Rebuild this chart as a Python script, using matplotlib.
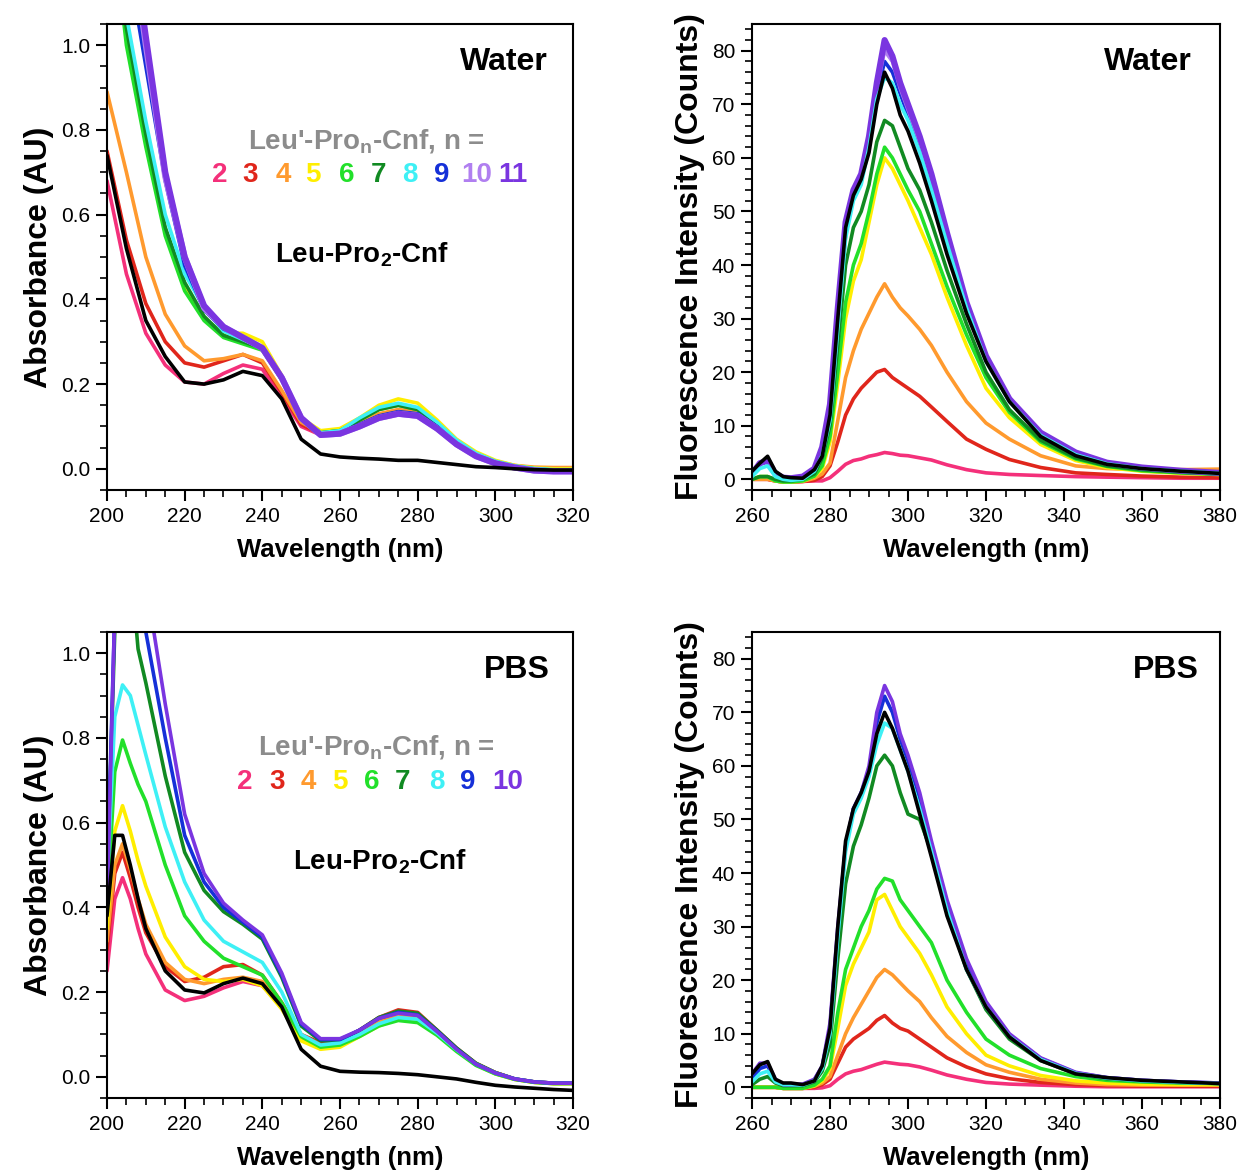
import numpy as np
import matplotlib
matplotlib.use("Agg")
import matplotlib.pyplot as plt
from matplotlib.ticker import MultipleLocator

plt.rcParams['font.family'] = ['Liberation Sans', 'DejaVu Sans']
plt.rcParams['mathtext.fontset'] = 'custom'
plt.rcParams['mathtext.rm'] = 'Liberation Sans:bold'
plt.rcParams['mathtext.bf'] = 'Liberation Sans:bold'

# colours for n = 2 .. 11 and the reference (black)
COL = {
    '2': '#f4307a', '3': '#e0261b', '4': '#ff9a2e', '5': '#ffee00',
    '6': '#22e02a', '7': '#118a22', '8': '#3ef0f5', '9': '#1530d8',
    '10': '#b07ff0', '11': '#7a35e0', 'ref': '#000000',
}
# in the PBS set n = 10 is drawn in the dark purple
COL_P = dict(COL)
COL_P['10'] = '#7a35e0'

# ---------------- absorbance, water ----------------
wl_abs_w = [200, 205, 210, 215, 220, 225, 230, 235, 240, 245, 250, 255, 260,
            265, 270, 275, 280, 285, 290, 295, 300, 305, 310, 315, 320]
abs_w = {
    '2':  [0.68, 0.46, 0.32, 0.245, 0.205, 0.20, 0.225, 0.245, 0.235, 0.17, 0.10, 0.08, 0.085,
           0.10, 0.12, 0.13, 0.125, 0.095, 0.055, 0.03, 0.015, 0.005, 0.0, -0.002, -0.002],
    '3':  [0.75, 0.54, 0.39, 0.30, 0.25, 0.24, 0.255, 0.27, 0.25, 0.18, 0.105, 0.082, 0.088,
           0.105, 0.125, 0.135, 0.13, 0.10, 0.06, 0.033, 0.017, 0.007, 0.002, 0.0, 0.0],
    '4':  [0.89, 0.70, 0.50, 0.365, 0.29, 0.255, 0.26, 0.27, 0.255, 0.185, 0.11, 0.085, 0.09,
           0.11, 0.13, 0.14, 0.135, 0.10, 0.06, 0.035, 0.018, 0.008, 0.004, 0.003, 0.003],
    '5':  [1.40, 1.02, 0.77, 0.56, 0.43, 0.355, 0.32, 0.32, 0.30, 0.22, 0.12, 0.09, 0.095,
           0.12, 0.15, 0.165, 0.155, 0.115, 0.07, 0.04, 0.02, 0.008, 0.002, 0.0, 0.0],
    '6':  [1.40, 1.00, 0.76, 0.55, 0.42, 0.35, 0.31, 0.295, 0.28, 0.21, 0.12, 0.085, 0.09,
           0.115, 0.14, 0.15, 0.14, 0.105, 0.065, 0.035, 0.017, 0.006, 0.0, -0.003, -0.003],
    '7':  [1.40, 1.04, 0.79, 0.57, 0.44, 0.36, 0.315, 0.30, 0.285, 0.21, 0.12, 0.085, 0.09,
           0.115, 0.14, 0.15, 0.14, 0.105, 0.065, 0.035, 0.017, 0.006, 0.0, -0.003, -0.003],
    '8':  [1.45, 1.07, 0.82, 0.60, 0.46, 0.38, 0.325, 0.305, 0.285, 0.21, 0.12, 0.085, 0.09,
           0.12, 0.145, 0.155, 0.145, 0.11, 0.068, 0.037, 0.018, 0.007, 0.001, -0.002, -0.002],
    '9':  [1.60, 1.22, 0.95, 0.68, 0.48, 0.375, 0.33, 0.31, 0.285, 0.215, 0.12, 0.082, 0.085,
           0.105, 0.125, 0.135, 0.13, 0.10, 0.06, 0.032, 0.015, 0.004, -0.003, -0.006, -0.006],
    '10': [1.70, 1.33, 1.00, 0.69, 0.50, 0.38, 0.335, 0.31, 0.285, 0.215, 0.12, 0.08, 0.083,
           0.10, 0.12, 0.13, 0.125, 0.095, 0.058, 0.03, 0.013, 0.003, -0.004, -0.006, -0.006],
    '11': [1.70, 1.35, 1.02, 0.70, 0.50, 0.385, 0.335, 0.31, 0.285, 0.215, 0.12, 0.08, 0.083,
           0.10, 0.12, 0.13, 0.125, 0.095, 0.058, 0.03, 0.013, 0.003, -0.004, -0.006, -0.006],
    'ref': [0.74, 0.52, 0.35, 0.265, 0.205, 0.20, 0.21, 0.23, 0.22, 0.165, 0.07, 0.035, 0.028,
            0.025, 0.023, 0.02, 0.02, 0.015, 0.01, 0.005, 0.003, 0.0, -0.002, -0.003, -0.003],
}

# ---------------- absorbance, PBS ----------------
wl_abs_p = [200, 202, 204, 206, 208, 210, 215, 220, 225, 230, 235, 240, 245, 250,
            255, 260, 265, 270, 275, 280, 285, 290, 295, 300, 305, 310, 315, 320]
abs_p = {
    '2':  [0.25, 0.42, 0.47, 0.42, 0.35, 0.29, 0.205, 0.18, 0.19, 0.21, 0.225, 0.215, 0.165, 0.095,
           0.075, 0.08, 0.10, 0.13, 0.145, 0.14, 0.105, 0.065, 0.03, 0.01, -0.005, -0.012, -0.015, -0.015],
    '3':  [0.30, 0.48, 0.53, 0.47, 0.40, 0.34, 0.26, 0.225, 0.235, 0.26, 0.265, 0.24, 0.175, 0.10,
           0.08, 0.085, 0.11, 0.14, 0.158, 0.152, 0.11, 0.068, 0.032, 0.01, -0.005, -0.012, -0.015, -0.015],
    '4':  [0.32, 0.50, 0.55, 0.49, 0.42, 0.36, 0.27, 0.23, 0.22, 0.23, 0.235, 0.225, 0.165, 0.09,
           0.07, 0.075, 0.10, 0.13, 0.145, 0.14, 0.105, 0.065, 0.03, 0.008, -0.006, -0.013, -0.016, -0.016],
    '5':  [0.35, 0.58, 0.64, 0.58, 0.51, 0.45, 0.33, 0.26, 0.23, 0.225, 0.23, 0.215, 0.16, 0.085,
           0.065, 0.07, 0.095, 0.12, 0.137, 0.132, 0.10, 0.062, 0.028, 0.007, -0.006, -0.013, -0.016, -0.016],
    '6':  [0.40, 0.72, 0.795, 0.74, 0.69, 0.65, 0.50, 0.38, 0.32, 0.28, 0.26, 0.24, 0.175, 0.095,
           0.07, 0.075, 0.095, 0.12, 0.133, 0.128, 0.098, 0.06, 0.027, 0.007, -0.006, -0.013, -0.016, -0.016],
    '7':  [0.45, 1.05, 1.30, 1.22, 1.01, 0.93, 0.71, 0.53, 0.44, 0.39, 0.36, 0.325, 0.235, 0.12,
           0.085, 0.085, 0.11, 0.14, 0.155, 0.15, 0.11, 0.068, 0.032, 0.01, -0.005, -0.012, -0.015, -0.015],
    '8':  [0.45, 0.85, 0.925, 0.90, 0.83, 0.76, 0.59, 0.46, 0.37, 0.32, 0.295, 0.27, 0.20, 0.10,
           0.075, 0.08, 0.10, 0.125, 0.14, 0.136, 0.103, 0.064, 0.03, 0.009, -0.005, -0.012, -0.015, -0.015],
    '9':  [0.45, 1.10, 1.40, 1.35, 1.20, 1.05, 0.80, 0.57, 0.46, 0.40, 0.365, 0.33, 0.24, 0.125,
           0.088, 0.088, 0.11, 0.138, 0.152, 0.146, 0.108, 0.066, 0.03, 0.009, -0.005, -0.012, -0.015, -0.015],
    '10': [0.40, 1.10, 1.50, 1.45, 1.32, 1.17, 0.88, 0.62, 0.48, 0.41, 0.37, 0.335, 0.245, 0.128,
           0.09, 0.09, 0.11, 0.138, 0.15, 0.145, 0.107, 0.065, 0.03, 0.009, -0.005, -0.012, -0.015, -0.015],
    'ref': [0.38, 0.57, 0.57, 0.50, 0.42, 0.35, 0.25, 0.205, 0.198, 0.22, 0.233, 0.22, 0.165, 0.065,
            0.025, 0.013, 0.011, 0.01, 0.008, 0.005, 0.0, -0.005, -0.013, -0.02, -0.024, -0.027, -0.03, -0.032],
}

# ---------------- fluorescence ----------------
wl_fl = [260, 262, 264, 266, 268, 270, 273, 276, 278, 280, 282, 284, 286, 288, 290, 292,
         294, 296, 298, 300, 303, 306, 310, 315, 320, 326, 334, 343, 351, 360, 370, 380]
fl_w = {
    '2':  [0.0, 0.0, 0.0, -0.3, -0.5, -0.5, -0.4, -0.3, -0.3, 0.3, 1.5, 2.8, 3.5, 3.8, 4.3, 4.6,
           5.0, 4.8, 4.5, 4.4, 4.0, 3.6, 2.7, 1.8, 1.2, 0.9, 0.7, 0.5, 0.4, 0.3, 0.2, 0.2],
    '3':  [0.0, 0.0, 0.0, -0.3, -0.5, -0.5, -0.4, -0.2, 0.5, 2.5, 7.0, 12.0, 15.0, 17.0, 18.5, 20.0,
           20.5, 19.0, 18.0, 17.0, 15.5, 13.5, 10.8, 7.5, 5.6, 3.7, 2.2, 1.2, 0.9, 0.6, 0.4, 0.3],
    '4':  [0.0, 0.0, 0.0, -0.3, -0.5, -0.5, -0.4, 0.2, 1.0, 3.0, 11.0, 19.0, 24.0, 28.0, 31.0, 34.0,
           36.5, 34.0, 32.0, 30.5, 28.0, 25.0, 20.0, 14.5, 10.5, 7.5, 4.4, 2.5, 2.0, 1.8, 1.8, 1.9],
    '5':  [0.0, 0.5, 0.5, -0.3, -0.5, -0.5, -0.3, 0.5, 2.0, 7.0, 18.0, 30.0, 37.0, 41.0, 48.0, 55.0,
           60.0, 58.0, 55.0, 52.0, 47.0, 42.0, 34.0, 25.0, 17.0, 11.5, 6.5, 3.5, 2.2, 1.5, 1.1, 0.9],
    '6':  [0.0, 0.5, 0.5, -0.3, -0.5, -0.5, -0.3, 0.6, 2.5, 8.0, 20.0, 33.0, 40.0, 44.0, 50.0, 57.0,
           62.0, 60.0, 57.0, 54.0, 50.0, 44.0, 36.0, 27.0, 19.0, 12.5, 7.0, 3.8, 2.4, 1.6, 1.2, 0.9],
    '7':  [0.0, 0.5, 0.5, 0.0, -0.3, -0.3, 0.0, 1.0, 4.0, 10.0, 25.0, 40.0, 47.0, 50.0, 55.0, 63.0,
           67.0, 66.0, 62.0, 58.0, 54.0, 48.0, 39.0, 29.0, 20.0, 13.0, 7.3, 4.0, 2.5, 1.8, 1.3, 1.0],
    '8':  [0.5, 2.0, 2.5, 0.5, 0.0, -0.2, 0.0, 1.5, 4.5, 11.0, 28.0, 45.0, 52.0, 55.0, 62.0, 71.0,
           75.0, 74.0, 70.0, 67.0, 61.0, 54.0, 44.0, 32.0, 22.0, 14.5, 8.2, 4.6, 2.9, 2.0, 1.5, 1.1],
    '9':  [0.8, 2.8, 3.3, 0.8, 0.2, 0.0, 0.3, 1.8, 5.5, 13.0, 31.0, 47.0, 53.0, 56.0, 63.0, 72.0,
           78.0, 76.0, 72.0, 68.0, 62.0, 55.0, 45.0, 32.0, 22.5, 14.8, 8.4, 4.8, 3.0, 2.1, 1.5, 1.1],
    '10': [1.0, 3.0, 3.5, 1.0, 0.3, 0.2, 0.5, 2.0, 6.0, 14.0, 32.0, 48.0, 54.0, 57.0, 64.0, 73.0,
           80.0, 78.0, 73.0, 69.0, 63.0, 56.0, 46.0, 33.0, 23.0, 15.0, 8.6, 5.0, 3.1, 2.2, 1.6, 1.2],
    '11': [1.0, 3.0, 3.5, 1.0, 0.3, 0.2, 0.5, 2.0, 6.0, 14.0, 32.0, 48.0, 54.0, 57.0, 64.0, 74.0,
           82.0, 79.0, 74.0, 70.0, 64.0, 57.0, 46.0, 33.0, 23.0, 15.0, 8.7, 5.0, 3.1, 2.2, 1.6, 1.2],
    'ref': [1.5, 3.0, 4.3, 1.5, 0.5, 0.3, 0.2, 1.8, 4.3, 12.0, 30.0, 47.0, 53.0, 56.0, 61.0, 70.0,
            76.0, 73.0, 68.0, 65.0, 59.0, 52.0, 42.0, 31.0, 22.0, 14.5, 8.0, 4.4, 2.8, 2.0, 1.5, 1.1],
}
fl_p = {
    '2':  [0.0, 0.0, 0.0, 0.0, -0.2, -0.2, -0.2, -0.2, -0.1, 0.3, 1.5, 2.5, 3.0, 3.3, 3.8, 4.3,
           4.7, 4.5, 4.3, 4.2, 3.8, 3.2, 2.3, 1.5, 0.9, 0.6, 0.4, 0.2, 0.1, 0.1, 0.1, 0.1],
    '3':  [0.0, 0.0, 0.0, 0.0, -0.2, -0.2, -0.2, 0.0, 0.5, 1.5, 4.5, 7.5, 9.0, 10.0, 11.0, 12.5,
           13.4, 12.0, 11.0, 10.5, 9.0, 7.5, 5.5, 3.8, 2.5, 1.6, 0.9, 0.5, 0.3, 0.2, 0.2, 0.2],
    '4':  [0.0, 0.0, 0.0, 0.0, -0.2, -0.2, -0.2, 0.2, 0.8, 2.0, 6.0, 10.0, 13.0, 15.5, 18.0, 20.5,
           22.0, 21.0, 19.5, 18.0, 16.0, 13.0, 9.5, 6.5, 4.2, 2.8, 1.5, 0.8, 0.5, 0.4, 0.4, 0.4],
    '5':  [0.0, 0.0, 0.0, 0.0, -0.2, -0.2, -0.2, 0.3, 1.2, 3.5, 11.0, 19.0, 23.0, 26.0, 29.0, 35.0,
           36.0, 33.0, 30.0, 28.0, 25.0, 21.0, 15.0, 10.0, 6.0, 4.0, 2.2, 1.2, 0.8, 0.6, 0.5, 0.5],
    '6':  [0.0, 0.0, 0.0, 0.0, -0.2, -0.2, -0.2, 0.4, 1.5, 4.0, 14.0, 22.0, 26.0, 30.0, 33.0, 37.0,
           39.0, 38.5, 35.0, 33.0, 30.0, 27.0, 20.0, 14.0, 9.0, 6.0, 3.5, 2.0, 1.3, 1.0, 0.8, 0.7],
    '7':  [0.5, 1.5, 2.0, 0.8, 0.3, 0.3, 0.3, 1.0, 3.0, 8.0, 24.0, 38.0, 45.0, 49.0, 54.0, 60.0,
           62.0, 60.0, 55.0, 51.0, 50.0, 44.0, 33.0, 22.0, 14.5, 9.0, 5.0, 2.5, 1.6, 1.2, 0.9, 0.7],
    '8':  [1.0, 2.5, 3.0, 1.0, 0.5, 0.5, 0.4, 1.2, 3.5, 10.0, 28.0, 44.0, 51.0, 54.0, 58.0, 64.0,
           68.0, 67.0, 63.0, 59.0, 52.0, 44.0, 33.0, 22.0, 15.0, 9.5, 5.2, 2.6, 1.7, 1.2, 0.9, 0.7],
    '9':  [1.5, 3.5, 4.0, 1.2, 0.5, 0.5, 0.5, 1.4, 3.8, 11.0, 29.0, 45.0, 52.0, 55.0, 59.0, 68.0,
           73.0, 70.0, 65.0, 61.0, 54.0, 45.0, 34.0, 23.0, 15.5, 9.8, 5.4, 2.7, 1.8, 1.3, 1.0, 0.8],
    '10': [2.5, 4.5, 4.5, 1.5, 0.5, 0.5, 0.6, 1.5, 4.0, 12.0, 30.0, 45.0, 52.0, 55.0, 60.0, 70.0,
           75.0, 72.0, 66.0, 62.0, 55.0, 46.0, 35.0, 24.0, 16.0, 10.0, 5.5, 2.8, 1.8, 1.3, 1.0, 0.8],
    'ref': [2.5, 4.2, 4.8, 1.5, 0.8, 0.8, 0.5, 1.2, 4.0, 11.0, 30.0, 46.0, 52.0, 55.0, 59.0, 66.0,
            70.0, 67.0, 63.0, 59.0, 51.0, 43.0, 32.0, 22.0, 15.0, 9.4, 5.0, 2.5, 1.8, 1.3, 1.0, 0.7],
}

legend_w = ['2', '3', '4', '5', '6', '7', '8', '9', '10', '11']
legend_p = ['2', '3', '4', '5', '6', '7', '8', '9', '10']
legend_x_w = [0.243, 0.306, 0.378, 0.442, 0.515, 0.582, 0.650, 0.719, 0.794, 0.871]
legend_x_p = [0.296, 0.365, 0.431, 0.500, 0.569, 0.635, 0.708, 0.773, 0.860]

TICK_FS = 15
LAB_FS = 18.5
YLAB_FS = 23
TXT_FS = 20
LW = 2.6


def style_axis(ax, kind):
    if kind == 'abs':
        ax.set_xlim(200, 320)
        ax.set_ylim(-0.05, 1.05)
        ax.xaxis.set_major_locator(MultipleLocator(20))
        ax.xaxis.set_minor_locator(MultipleLocator(5))
        ax.yaxis.set_minor_locator(MultipleLocator(0.05))
        ax.set_yticks([0.0, 0.2, 0.4, 0.6, 0.8, 1.0])
        ax.set_yticklabels(['0.0', '0.2', '0.4', '0.6', '0.8', '1.0'])
        ax.set_ylabel('Absorbance (AU)', fontsize=YLAB_FS, fontweight='bold', labelpad=5)
    else:
        ax.set_xlim(260, 380)
        ax.set_ylim(-2, 85)
        ax.xaxis.set_major_locator(MultipleLocator(20))
        ax.xaxis.set_minor_locator(MultipleLocator(5))
        ax.yaxis.set_major_locator(MultipleLocator(10))
        ax.yaxis.set_minor_locator(MultipleLocator(2))
        ax.set_ylabel('Fluorescence Intensity (Counts)', fontsize=YLAB_FS,
                      fontweight='bold', labelpad=5)
    ax.set_xlabel('Wavelength (nm)', fontsize=LAB_FS, fontweight='bold', labelpad=9)
    ax.tick_params(which='major', direction='out', length=8, width=1.5,
                   labelsize=TICK_FS, pad=4)
    ax.tick_params(which='minor', direction='out', length=5, width=1.2)
    ax.tick_params(top=False, right=False)
    for s in ax.spines.values():
        s.set_linewidth(1.5)


def draw(ax, wl, data, order, colours, thick=()):
    for k in order:
        lw = LW + 1.8 if k in thick else LW
        ax.plot(wl, data[k], color=colours[k], lw=lw, solid_joinstyle='round',
                solid_capstyle='round')


def legend(ax, keys, xs, colours, y_title, y_nums):
    ax.text(np.mean([xs[0], xs[-1]]), y_title, r"Leu'-Pro$_\mathrm{n}$-Cnf, n =",
            transform=ax.transAxes, ha='center', va='center', fontsize=TXT_FS,
            fontweight='bold', color='#8c8c8c')
    for k, x in zip(keys, xs):
        ax.text(x, y_nums, k, transform=ax.transAxes, ha='center', va='center',
                fontsize=TXT_FS, fontweight='bold', color=colours[k])


fig = plt.figure(figsize=(12.41, 11.73), dpi=100)
W, H = 1241, 1173
ax_tl = fig.add_axes([107 / W, 1 - 490 / H, 466 / W, 466 / H])
ax_tr = fig.add_axes([752 / W, 1 - 490 / H, 468 / W, 466 / H])
ax_bl = fig.add_axes([107 / W, 1 - 1098 / H, 466 / W, 466 / H])
ax_br = fig.add_axes([752 / W, 1 - 1098 / H, 468 / W, 466 / H])

order_w = ['2', '3', '4', '5', '6', '7', '8', '9', '10', '11', 'ref']
order_p = ['2', '3', '4', '5', '6', '7', '8', '9', '10', 'ref']
order_fw = ['2', '3', '4', '5', '6', '7', '9', '10', '11', '8', 'ref']
order_fp = ['2', '3', '4', '5', '6', '7', '9', '10', '8', 'ref']

draw(ax_tl, wl_abs_w, abs_w, order_w, COL, thick=('10', '11'))
draw(ax_bl, wl_abs_p, abs_p, order_p, COL_P)
draw(ax_tr, wl_fl, fl_w, order_fw, COL, thick=('11',))
draw(ax_br, wl_fl, fl_p, order_fp, COL_P)

for ax in (ax_tl, ax_bl):
    style_axis(ax, 'abs')
for ax in (ax_tr, ax_br):
    style_axis(ax, 'fl')

legend(ax_tl, legend_w, legend_x_w, COL, (490 - 142) / 466, (490 - 175) / 466)
legend(ax_bl, legend_p, legend_x_p, COL_P, (1098 - 748) / 466, (1098 - 782) / 466)

ax_tl.text((362 - 107) / 466, (490 - 255) / 466, r"Leu-Pro$_\mathrm{2}$-Cnf",
           transform=ax_tl.transAxes, ha='center', va='center', fontsize=TXT_FS,
           fontweight='bold', color='black')
ax_bl.text((380 - 107) / 466, (1098 - 862) / 466, r"Leu-Pro$_\mathrm{2}$-Cnf",
           transform=ax_bl.transAxes, ha='center', va='center', fontsize=TXT_FS,
           fontweight='bold', color='black')

ax_tl.text(0.945, 0.918, 'Water', transform=ax_tl.transAxes, ha='right', va='center',
           fontsize=23, fontweight='bold')
ax_tr.text(0.94, 0.918, 'Water', transform=ax_tr.transAxes, ha='right', va='center',
           fontsize=23, fontweight='bold')
ax_bl.text(0.95, 0.918, 'PBS', transform=ax_bl.transAxes, ha='right', va='center',
           fontsize=23, fontweight='bold')
ax_br.text(0.955, 0.918, 'PBS', transform=ax_br.transAxes, ha='right', va='center',
           fontsize=23, fontweight='bold')

fig.savefig('out.png', dpi=100)
